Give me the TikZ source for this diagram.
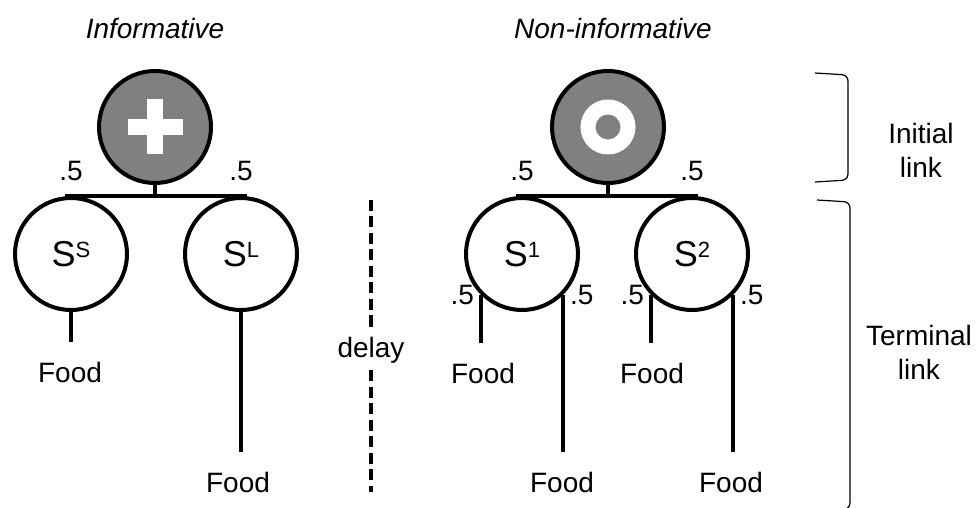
\documentclass[tikz,border=0pt]{standalone}
\usepackage{fontspec}
\setmainfont{Liberation Sans}
\usetikzlibrary{positioning}
\newcommand{\stim}[1]{S\raisebox{4.5pt}{\fontsize{11pt}{12pt}\selectfont #1}}

\begin{document}
\begin{tikzpicture}[x=0.5pt,y=-0.5pt,font=\fontsize{14pt}{17pt}\selectfont,
  key/.style={circle,draw,line width=2pt,fill=gray,minimum size=56pt},
  stimnode/.style={circle,draw,line width=2pt,fill=white,minimum size=56pt,inner sep=0pt,font=\fontsize{18pt}{20pt}\selectfont},
  food/.style={inner sep=0pt,outer sep=10pt},
  bar/.style={line width=2pt},
  delayline/.style={line width=2pt,dash pattern=on 5.5pt off 2.75pt},
  brace/.style={line width=0.6pt,rounded corners=3pt}]
\useasboundingbox (0,0) rectangle (976,508);

\node [font=\fontsize{14pt}{17pt}\selectfont\itshape] (tinf) at (155,28) {Informative};
\node [font=\fontsize{14pt}{17pt}\selectfont\itshape] (tnon) at (613,28) {Non-informative};

\node [key] (inf) at (155,127) {};
\fill [white] (inf.center) +(-8,-27.5) rectangle +(8,27.5);
\fill [white] (inf.center) +(-27.5,-8) rectangle +(27.5,8);
\node [stimnode] (ss) at (71,254) {\stim{S}};
\node [stimnode] (sl) at (241,254) {\stim{L}};
\draw [bar] (inf.south) -- (inf.south |- ss.north);
\draw [bar] ([xshift=-3pt]ss.north) -- ([xshift=3pt]sl.north);
\node [above=4pt of ss] (pss) {.5};
\node [above=4pt of sl] (psl) {.5};
\node [food] (fs) at (70,372) {Food};
\node [food] (fl) at (238,482) {Food};
\draw [bar] (ss.south) -- (ss.south |- fs.north);
\draw [bar] (sl.south) -- (sl.south |- fl.north);

\node (dl) at (371,350) {delay};
\coordinate (dtop) at (371,200);
\coordinate (dbot) at (371,492);
\draw [delayline] (dtop) -- (dl.north);
\draw [delayline] (dl.south) -- (dbot);

\node [key] (non) at (608,127) {};
\draw [white,line width=7.5pt] (non.center) circle (10pt);
\node [stimnode] (s1) at (522,254) {\stim{1}};
\node [stimnode] (s2) at (692,254) {\stim{2}};
\draw [bar] (non.south) -- (non.south |- s1.north);
\draw [bar] ([xshift=-3pt]s1.north) -- ([xshift=3pt]s2.north);
\node [above=4pt of s1] (ps1) {.5};
\node [above=4pt of s2] (ps2) {.5};
\node [food] (f1) at (483,373) {Food};
\node [food] (f2) at (562,482) {Food};
\node [food] (f3) at (652,373) {Food};
\node [food] (f4) at (731,482) {Food};
\draw [bar] (s1.south west) -- (s1.south west |- f1.north);
\draw [bar] (s1.south east) -- (s1.south east |- f2.north);
\draw [bar] (s2.south west) -- (s2.south west |- f3.north);
\draw [bar] (s2.south east) -- (s2.south east |- f4.north);
\node [left] (q1) at (s1.south west) {.5};
\node [right] (q2) at (s1.south east) {.5};
\node [left] (q3) at (s2.south west) {.5};
\node [right] (q4) at (s2.south east) {.5};

\draw [brace] (815,73) -- (848,75) -- (848,180) -- (815,182);
\draw [brace] (817,200) -- (850,202) -- (850,509) -- (817,511);
\node [align=center] (init) at (921,150) {Initial\\link};
\node [align=center] (term) at (919,352) {Terminal\\link};
\end{tikzpicture}
\end{document}
